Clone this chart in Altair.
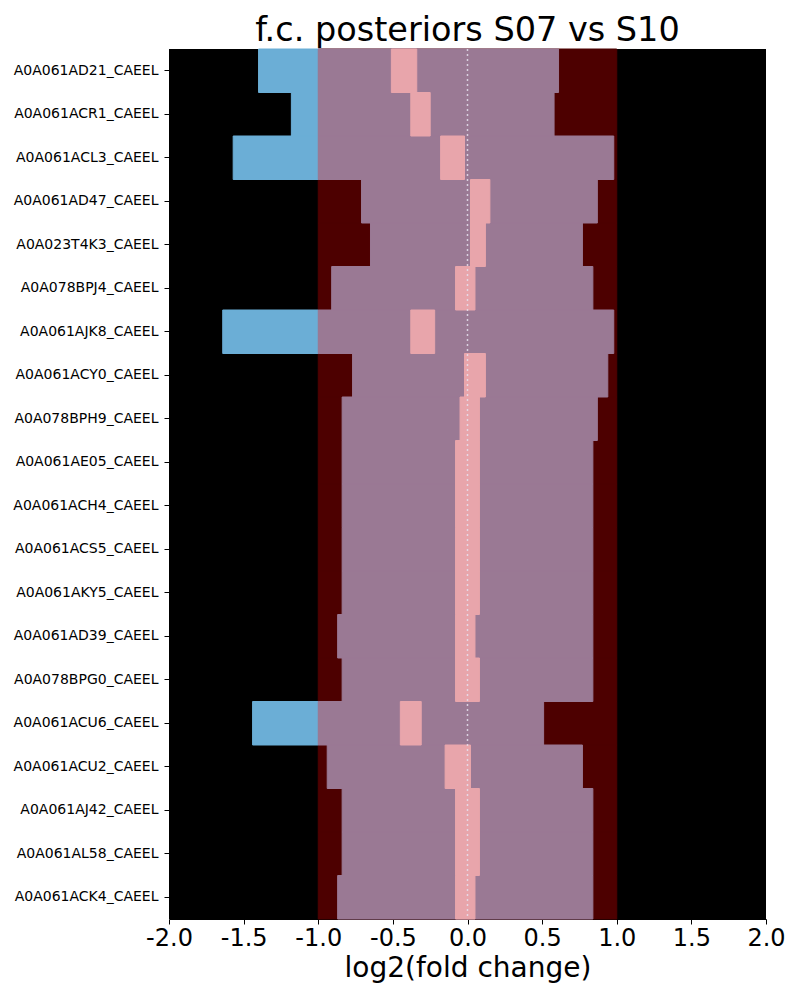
import altair as alt
import pandas as pd

proteins = [
    "A0A061AD21_CAEEL", "A0A061ACR1_CAEEL", "A0A061ACL3_CAEEL", "A0A061AD47_CAEEL",
    "A0A023T4K3_CAEEL", "A0A078BPJ4_CAEEL", "A0A061AJK8_CAEEL", "A0A061ACY0_CAEEL",
    "A0A078BPH9_CAEEL", "A0A061AE05_CAEEL", "A0A061ACH4_CAEEL", "A0A061ACS5_CAEEL",
    "A0A061AKY5_CAEEL", "A0A061AD39_CAEEL", "A0A078BPG0_CAEEL", "A0A061ACU6_CAEEL",
    "A0A061ACU2_CAEEL", "A0A061AJ42_CAEEL", "A0A061AL58_CAEEL", "A0A061ACK4_CAEEL",
]
outer_lo = [-1.40, -1.18, -1.57, -0.71, -0.65, -0.91, -1.64, -0.77, -0.84, -0.84,
            -0.84, -0.84, -0.84, -0.87, -0.84, -1.44, -0.94, -0.84, -0.84, -0.87]
outer_hi = [0.61, 0.58, 0.98, 0.87, 0.77, 0.84, 0.98, 0.94, 0.87, 0.84,
            0.84, 0.84, 0.84, 0.84, 0.84, 0.51, 0.77, 0.84, 0.84, 0.84]
inner_lo = [-0.51, -0.38, -0.18, 0.02, 0.02, -0.08, -0.38, -0.02, -0.05, -0.08,
            -0.08, -0.08, -0.08, -0.08, -0.08, -0.45, -0.15, -0.08, -0.08, -0.08]
inner_hi = [-0.34, -0.25, -0.02, 0.15, 0.12, 0.05, -0.22, 0.12, 0.08, 0.08,
            0.08, 0.08, 0.08, 0.05, 0.08, -0.31, 0.02, 0.08, 0.08, 0.05]
rope = [-1.0, 1.0]
x_ticks = [-2.0, -1.5, -1.0, -0.5, 0.0, 0.5, 1.0, 1.5, 2.0]

df = pd.DataFrame({
    "protein": proteins,
    "lo": outer_lo, "hi": outer_hi,
    "ilo": inner_lo, "ihi": inner_hi,
})
df["rope_lo"] = rope[0]
df["rope_hi"] = rope[1]
df["in_lo"] = df["lo"].clip(lower=rope[0])
df["in_hi"] = df["hi"].clip(upper=rope[1])
below = df[df["lo"] < rope[0]].copy()
below["b_hi"] = rope[0]

xscale = alt.Scale(domain=[-2, 2], nice=False, zero=False)
yenc = alt.Y("protein:N", sort=proteins,
             scale=alt.Scale(paddingInner=0, paddingOuter=0),
             axis=alt.Axis(title=None, labelFontSize=14, tickSize=5, domain=False,
                           labelPadding=6, tickColor="black", labelColor="black"))
xaxis = alt.Axis(values=x_ticks, labelFontSize=24, tickSize=5,
                 labelExpr="replace(format(datum.value, '.1f'), '\u2212', '-')",
                 grid=False, domainColor="black", tickColor="black", labelColor="black",
                 title="log2(fold change)", titleFontSize=28, titleFontWeight="normal",
                 titlePadding=4, labelPadding=2, labelFlush=False)

base = alt.Chart(df)
SW = 1.0

red = base.mark_bar(color="#4d0000", opacity=1, stroke="#4d0000", strokeWidth=SW).encode(
    x=alt.X("rope_lo:Q", scale=xscale, axis=xaxis), x2="rope_hi:Q", y=yenc)

blue = alt.Chart(below).mark_bar(color="#6baed6", opacity=1, stroke="#6baed6", strokeWidth=SW).encode(
    x=alt.X("lo:Q", scale=xscale), x2="b_hi:Q", y=yenc)

purple = base.mark_bar(color="#9a7994", opacity=1, stroke="#9a7994", strokeWidth=SW).encode(
    x=alt.X("in_lo:Q", scale=xscale), x2="in_hi:Q", y=yenc)

pink = base.mark_bar(color="#e8a5ab", opacity=1, stroke="#e8a5ab", strokeWidth=SW).encode(
    x=alt.X("ilo:Q", scale=xscale), x2="ihi:Q", y=yenc)

zero = alt.Chart(pd.DataFrame({"z": [0.0]})).mark_rule(
    color="#e6e0ee", strokeWidth=1.5, strokeDash=[2, 3], opacity=0.85).encode(
    x=alt.X("z:Q", scale=xscale))

chart = alt.layer(red, blue, purple, pink, zero).properties(
    width=597, height=870,
    title=alt.TitleParams("f.c. posteriors S07 vs S10", fontSize=33.5,
                          fontWeight="normal", anchor="middle", offset=0, color="black"),
    autosize=alt.AutoSizeParams(type="none"),
    padding={"left": 169, "top": 49, "right": 34, "bottom": 81},
).configure(font="DejaVu Sans").configure_view(fill="black", stroke=None)

chart.save("out.html", embed_options={"renderer": "svg", "actions": False})
